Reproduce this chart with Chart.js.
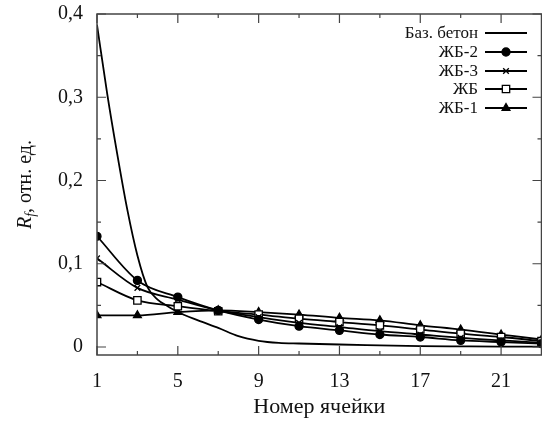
<!DOCTYPE html>
<html>
<head>
<meta charset="utf-8">
<script src="https://cdn.jsdelivr.net/npm/chart.js@4.4.1/dist/chart.umd.min.js"></script>
<style>
  html, body { margin: 0; padding: 0; background: #fff; overflow: hidden; }
  #wrap { width: 542px; height: 423px; overflow: hidden; }
</style>
</head>
<body>
<div id="wrap"><canvas id="chart" width="548" height="423"></canvas></div>
<script>
// Cells with markers
const cells = [1, 3, 5, 7, 9, 11, 13, 15, 17, 19, 21, 23];

// Series values
const zb2 = [0.133, 0.080, 0.060, 0.044, 0.033, 0.025, 0.020, 0.015, 0.012, 0.008, 0.006, 0.004];
const zb3 = [0.1065, 0.071, 0.057, 0.044, 0.036, 0.029, 0.024, 0.019, 0.015, 0.011, 0.008, 0.005];
const zb = [0.078, 0.056, 0.049, 0.043, 0.039, 0.034, 0.030, 0.026, 0.021, 0.016, 0.012, 0.007];
const zb1 = [0.038, 0.038, 0.042, 0.044, 0.042, 0.039, 0.035, 0.032, 0.026, 0.021, 0.015, 0.009];

// Base concrete curve (no markers)
const baseX = [1, 1.5, 2, 2.5, 3, 3.5, 4, 4.5, 5, 6, 7, 8, 9, 10, 11, 13, 15, 17, 19, 21, 23];
const baseY = [0.387, 0.305, 0.232, 0.165, 0.110, 0.072, 0.057, 0.049, 0.042, 0.032, 0.023, 0.013, 0.0075, 0.005, 0.0042, 0.003, 0.002, 0.001, 0.0007, 0.0005, 0.0005];

// Tick labels
const xTicks = [1, 5, 9, 13, 17, 21];
const xMinor = [3, 7, 11, 15, 19];
const yTicks = [0, 0.1, 0.2, 0.3, 0.4];
const yTickLabels = ['0', '0,1', '0,2', '0,3', '0,4'];
const yMinor = [0.05, 0.15, 0.25, 0.35];

const FONT = '"Liberation Serif", "DejaVu Serif", serif';

function pts(xs, ys) {
    return xs.map((x, i) => ({ x: x, y: ys[i] }));
}

function series(label, data, style, radius, fill) {
    return {
        label: label,
        data: pts(cells, data),
        borderColor: '#000',
        borderWidth: 1.8,
        pointStyle: style,
        pointRadius: radius,
        pointBackgroundColor: fill,
        pointBorderColor: '#000',
        pointBorderWidth: 1.3,
        cubicInterpolationMode: 'monotone',
        fill: false
    };
}

// Frame and inward ticks, gnuplot style
const framePlugin = {
    id: 'frame',
    afterDraw(chart) {
        const ctx = chart.ctx;
        const a = chart.chartArea;
        const xs = chart.scales.x, ys = chart.scales.y;
        ctx.save();
        ctx.strokeStyle = '#444';
        ctx.lineWidth = 1.5;
        ctx.strokeRect(a.left, a.top, a.right - a.left, a.bottom - a.top);
        ctx.lineWidth = 1.2;
        ctx.beginPath();
        xTicks.forEach(v => {
            const p = xs.getPixelForValue(v);
            ctx.moveTo(p, a.bottom); ctx.lineTo(p, a.bottom - 9);
            ctx.moveTo(p, a.top); ctx.lineTo(p, a.top + 9);
        });
        xMinor.forEach(v => {
            const p = xs.getPixelForValue(v);
            ctx.moveTo(p, a.bottom); ctx.lineTo(p, a.bottom - 4);
            ctx.moveTo(p, a.top); ctx.lineTo(p, a.top + 4);
        });
        yTicks.forEach(v => {
            const p = ys.getPixelForValue(v);
            ctx.moveTo(a.left, p); ctx.lineTo(a.left + 9, p);
            ctx.moveTo(a.right, p); ctx.lineTo(a.right - 9, p);
        });
        yMinor.forEach(v => {
            const p = ys.getPixelForValue(v);
            ctx.moveTo(a.left, p); ctx.lineTo(a.left + 4, p);
            ctx.moveTo(a.right, p); ctx.lineTo(a.right - 4, p);
        });
        ctx.stroke();

        // Y axis title: R_f, отн. ед.
        ctx.fillStyle = '#111';
        ctx.textBaseline = 'alphabetic';
        const parts = [
            { t: 'R', f: 'italic 20px ' + FONT, dy: 0 },
            { t: 'f', f: 'italic 14px ' + FONT, dy: 4 },
            { t: ', отн. ед.', f: '20px ' + FONT, dy: 0 }
        ];
        let total = 0;
        parts.forEach(p => { ctx.font = p.f; p.w = ctx.measureText(p.t).width; total += p.w; });
        ctx.translate(31, (a.top + a.bottom) / 2);
        ctx.rotate(-Math.PI / 2);
        let x = -total / 2;
        parts.forEach(p => { ctx.font = p.f; ctx.fillText(p.t, x, p.dy); x += p.w; });
        ctx.restore();
    }
};

// Legend: text right aligned, sample line with marker on the right
const legendPlugin = {
    id: 'gpLegend',
    afterDraw(chart) {
        const ctx = chart.ctx;
        const rows = [33, 52, 71, 89, 108];
        ctx.save();
        ctx.font = '17px ' + FONT;
        ctx.textAlign = 'right';
        ctx.textBaseline = 'middle';
        chart.data.datasets.forEach((ds, i) => {
            const y = rows[i];
            ctx.fillStyle = '#111';
            ctx.fillText(ds.label, 478, y + 1);
            ctx.strokeStyle = '#000';
            ctx.lineWidth = 1.8;
            ctx.beginPath();
            ctx.moveTo(485, y); ctx.lineTo(527, y);
            ctx.stroke();
            if (ds.pointRadius > 0) {
                ctx.fillStyle = ds.pointBackgroundColor;
                ctx.lineWidth = ds.pointBorderWidth;
                Chart.helpers.drawPoint(ctx, {
                    pointStyle: ds.pointStyle,
                    radius: ds.pointRadius,
                    rotation: 0,
                    borderWidth: ds.pointBorderWidth
                }, 506, y);
            }
        });
        ctx.restore();
    }
};

const chart = new Chart(document.getElementById('chart'), {
    type: 'line',
    data: {
        datasets: [
            {
                label: 'Баз. бетон',
                data: pts(baseX, baseY),
                borderColor: '#000',
                borderWidth: 1.8,
                pointRadius: 0,
                cubicInterpolationMode: 'monotone',
                fill: false
            },
            series('ЖБ-2', zb2, 'circle', 4, '#000'),
            series('ЖБ-3', zb3, 'crossRot', 4, '#000'),
            series('ЖБ', zb, 'rect', 5.2, '#fff'),
            series('ЖБ-1', zb1, 'triangle', 4.5, '#000')
        ]
    },
    options: {
        responsive: false,
        animation: false,
        devicePixelRatio: 1,
        layout: {
            padding: { top: 14, right: 1, left: 0, bottom: 0 }
        },
        plugins: {
            legend: { display: false },
            tooltip: { enabled: false }
        },
        scales: {
            x: {
                type: 'linear',
                min: 1,
                max: 23,
                grid: { display: false },
                border: { display: false },
                afterBuildTicks: scale => { scale.ticks = xTicks.map(v => ({ value: v })); },
                afterFit: scale => { scale.height = 68; scale.paddingLeft = 0; scale.paddingRight = 0; },
                ticks: {
                    color: '#111',
                    padding: 7,
                    maxRotation: 0,
                    font: { family: FONT, size: 20 },
                    callback: v => String(v)
                },
                title: {
                    display: true,
                    text: 'Номер ячейки',
                    color: '#111',
                    font: { family: FONT, size: 22 },
                    padding: { top: 0, bottom: 3 }
                }
            },
            y: {
                type: 'linear',
                min: -0.0096,
                max: 0.4,
                grid: { display: false },
                border: { display: false },
                afterBuildTicks: scale => { scale.ticks = yTicks.map(v => ({ value: v })); },
                afterFit: scale => { scale.width = 97; scale.paddingTop = 0; scale.paddingBottom = 0; },
                ticks: {
                    color: '#111',
                    padding: 6,
                    font: { family: FONT, size: 20 },
                    callback: (v, i) => yTickLabels[i]
                }
            }
        }
    },
    plugins: [framePlugin, legendPlugin]
});
</script>
</body>
</html>
